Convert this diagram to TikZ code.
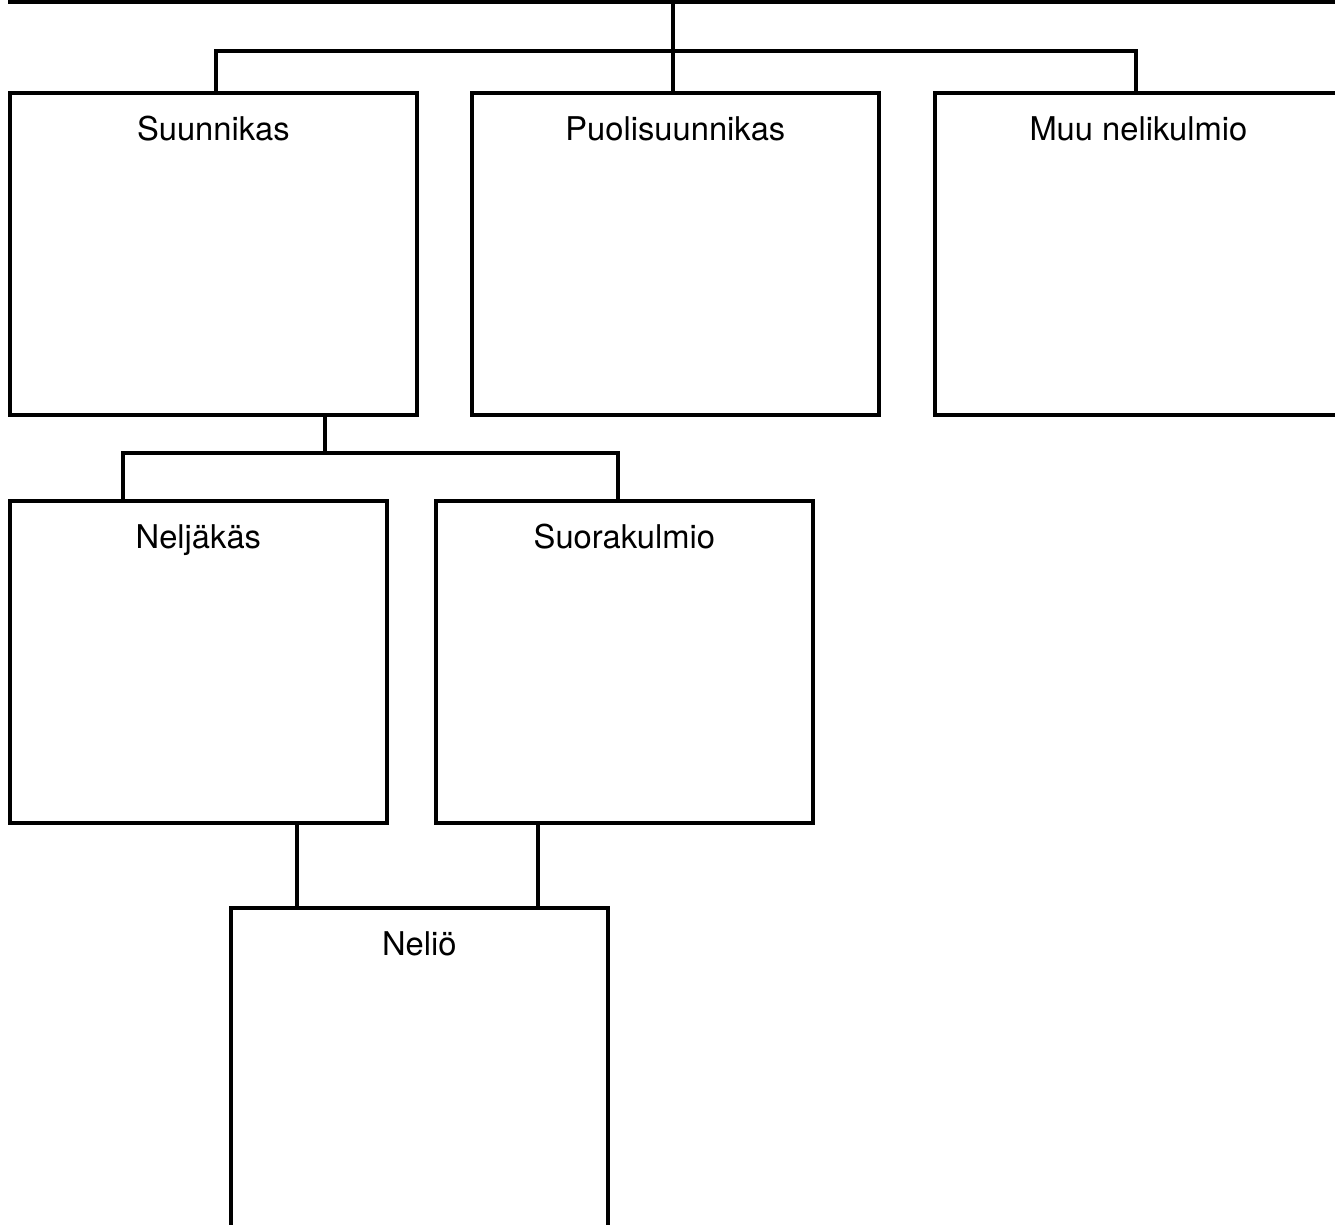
\documentclass[tikz,border=0pt]{standalone}
\usepackage{fontspec}
\setmainfont{TeX Gyre Heros}

\tikzset{
  box/.style={draw, line width=1pt, minimum height=3.22cm, inner sep=0pt},
  wide/.style={box, minimum width=4.07cm},
  narrow/.style={box, minimum width=3.77cm},
  title/.style={label={[anchor=base,yshift=-0.49cm,font=\fontsize{9.3}{11}\selectfont]north:#1}},
}

\begin{document}
\begin{tikzpicture}[x=0.01cm, y=-0.01cm, line width=1pt]
    \useasboundingbox (0,0) rectangle (1335,1225);
    \clip (0,0) rectangle (1335,1225);

    \node[box, minimum width=14cm, minimum height=2cm, anchor=south west] (root) at (8,4) {};

    \node[wide, anchor=north west, title=Suunnikas] (suun) at (8,91) {};
    \node[wide, anchor=north west, title=Puolisuunnikas] (puol) at (470,91) {};
    \node[wide, anchor=north west, title=Muu nelikulmio] (muu) at (933,91) {};

    \node[narrow, anchor=north west, title=Neljäkäs] (nelj) at (8,499) {};
    \node[narrow, anchor=north west, title=Suorakulmio] (suor) at (434,499) {};
    \node[narrow, anchor=north west, title=Neliö] (neli) at (229,906) {};

    % first level
    \coordinate (j1) at (673,51);
    \coordinate (s1) at (216,51);
    \coordinate (m1) at (1136,51);
    \draw (root.south -| j1) -- (j1);
    \draw (suun.north -| s1) |- (m1) -- (muu.north -| m1);
    \draw (j1) -- (puol.north -| j1);

    % second level
    \coordinate (j2) at (325,453);
    \coordinate (n1) at (123,453);
    \coordinate (r1) at (618,453);
    \draw (suun.south -| j2) -- (j2);
    \draw (nelj.north -| n1) |- (r1) -- (suor.north -| r1);

    % square
    \coordinate (k1) at (297,863);
    \coordinate (k2) at (538,863);
    \draw (nelj.south -| k1) -- (neli.north -| k1);
    \draw (suor.south -| k2) -- (neli.north -| k2);
\end{tikzpicture}
\end{document}
